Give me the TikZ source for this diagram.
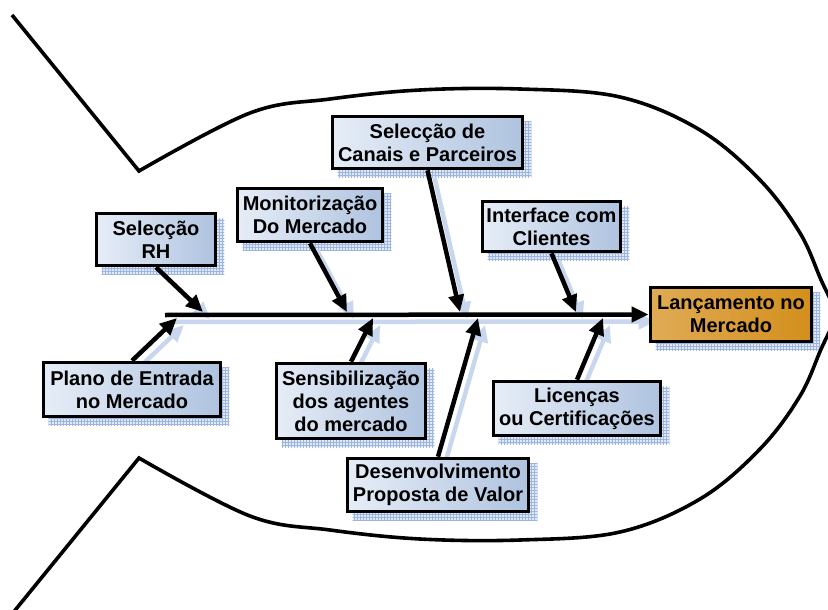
\documentclass[tikz,border=0pt]{standalone}
\usepackage{fontspec}
\setmainfont{Liberation Sans}
\usetikzlibrary{arrows.meta,patterns}
\pgfdeclarelayer{background}
\pgfsetlayers{background,main}

\definecolor{boxlight}{HTML}{E6EDF7}
\definecolor{boxdark}{HTML}{AFC3DF}
\definecolor{headlight}{HTML}{E0AB55}
\definecolor{headdark}{HTML}{D38F1C}
\definecolor{shadefill}{HTML}{E1E9F6}
\definecolor{shadegrid}{HTML}{9DB6E0}

\tikzset{
  cause/.style={draw=black, line width=3.6pt, left color=boxlight, right color=boxdark,
    font=\bfseries\fontsize{20}{23}\selectfont, align=center, inner sep=0pt},
  effect/.style={cause, left color=headlight, right color=headdark},
  shadowbox/.style={fill=shadefill, postaction={pattern=grid, pattern color=shadegrid}},
  bone/.style={line width=4.5pt, -{Triangle[length=17pt,width=15pt]}},
  boneshadow/.style={bone, draw=shadegrid!55, transform canvas={shift={(7pt,-7pt)}}},
  outline/.style={line width=3.6pt, line join=miter}
}

\begin{document}
\begin{tikzpicture}[x=1pt, y=-1pt]
\useasboundingbox (0,0) rectangle (828,610);

% fish outline: tail lines and body
\begin{scope}
  \clip (0,0) rectangle (828,610);
  \draw[outline] (12,15) -- (139,171)
    -- plot[smooth, tension=0.6] coordinates {(139,171) (250,113) (330,99) (420,90) (520,89) (620,97) (700,130) (760,180) (800,233) (822,282) (838,314.5)}
    -- plot[smooth, tension=0.6] coordinates {(838,314.5) (822,347) (800,396) (760,449) (700,499) (620,532) (520,540) (420,539) (330,530) (250,516) (139,458)}
    -- (12,614);
\end{scope}

% cause boxes
\node[cause, minimum width=119, minimum height=52] (rh) at (156,239.5) {Selecção\\RH};
\node[cause, minimum width=177, minimum height=54] (plano) at (132,389.5) {Plano de Entrada\\no Mercado};
\node[cause, minimum width=145, minimum height=53] (monit) at (310,215) {Monitorização\\Do Mercado};
\node[cause, minimum width=190, minimum height=52] (canais) at (427.5,142.5) {Selecção de\\Canais e Parceiros};
\node[cause, minimum width=138, minimum height=50] (interf) at (551.5,226.5) {Interface com\\Clientes};
\node[cause, minimum width=149, minimum height=75] (sensib) at (351,401) {Sensibilização\\dos agentes\\do mercado};
\node[cause, minimum width=181, minimum height=53] (desenv) at (438,485) {Desenvolvimento\\Proposta de Valor};
\node[cause, minimum width=167, minimum height=54] (licen) at (577,408.5) {Licenças\\ou Certificações};
\node[effect, minimum width=161, minimum height=54] (head) at (731,314.5) {Lançamento no\\Mercado};

% points where the bones meet the spine
\coordinate (tail) at (165,315);
\coordinate (t1) at (203,312);
\coordinate (b1) at (177,318);
\coordinate (t2) at (347,312);
\coordinate (b2) at (373,318);
\coordinate (t3) at (460,312);
\coordinate (b3) at (478,318);
\coordinate (t4) at (576,312);
\coordinate (b4) at (603,318);

% shadows
\begin{pgfonlayer}{background}
  \foreach \n in {rh,plano,monit,canais,interf,sensib,desenv,licen,head}
    \path[shadowbox] ([shift={(7,7)}]\n.north west) rectangle ([shift={(7,7)}]\n.south east);
  \draw[boneshadow] (tail) -- (head.west);
  \draw[boneshadow] (rh.south) -- (t1);
  \draw[boneshadow] (plano.north) -- (b1);
  \draw[boneshadow] (monit.south) -- (t2);
  \draw[boneshadow] (sensib.north) -- (b2);
  \draw[boneshadow] (canais.south) -- (t3);
  \draw[boneshadow] (desenv.north) -- (b3);
  \draw[boneshadow] (interf.south) -- (t4);
  \draw[boneshadow] (licen.north) -- (b4);
\end{pgfonlayer}

% spine and bones
\draw[bone] (tail) -- (head.west);
\draw[bone] (rh.south) -- (t1);
\draw[bone] (plano.north) -- (b1);
\draw[bone] (monit.south) -- (t2);
\draw[bone] (sensib.north) -- (b2);
\draw[bone] (canais.south) -- (t3);
\draw[bone] (desenv.north) -- (b3);
\draw[bone] (interf.south) -- (t4);
\draw[bone] (licen.north) -- (b4);
\end{tikzpicture}
\end{document}
